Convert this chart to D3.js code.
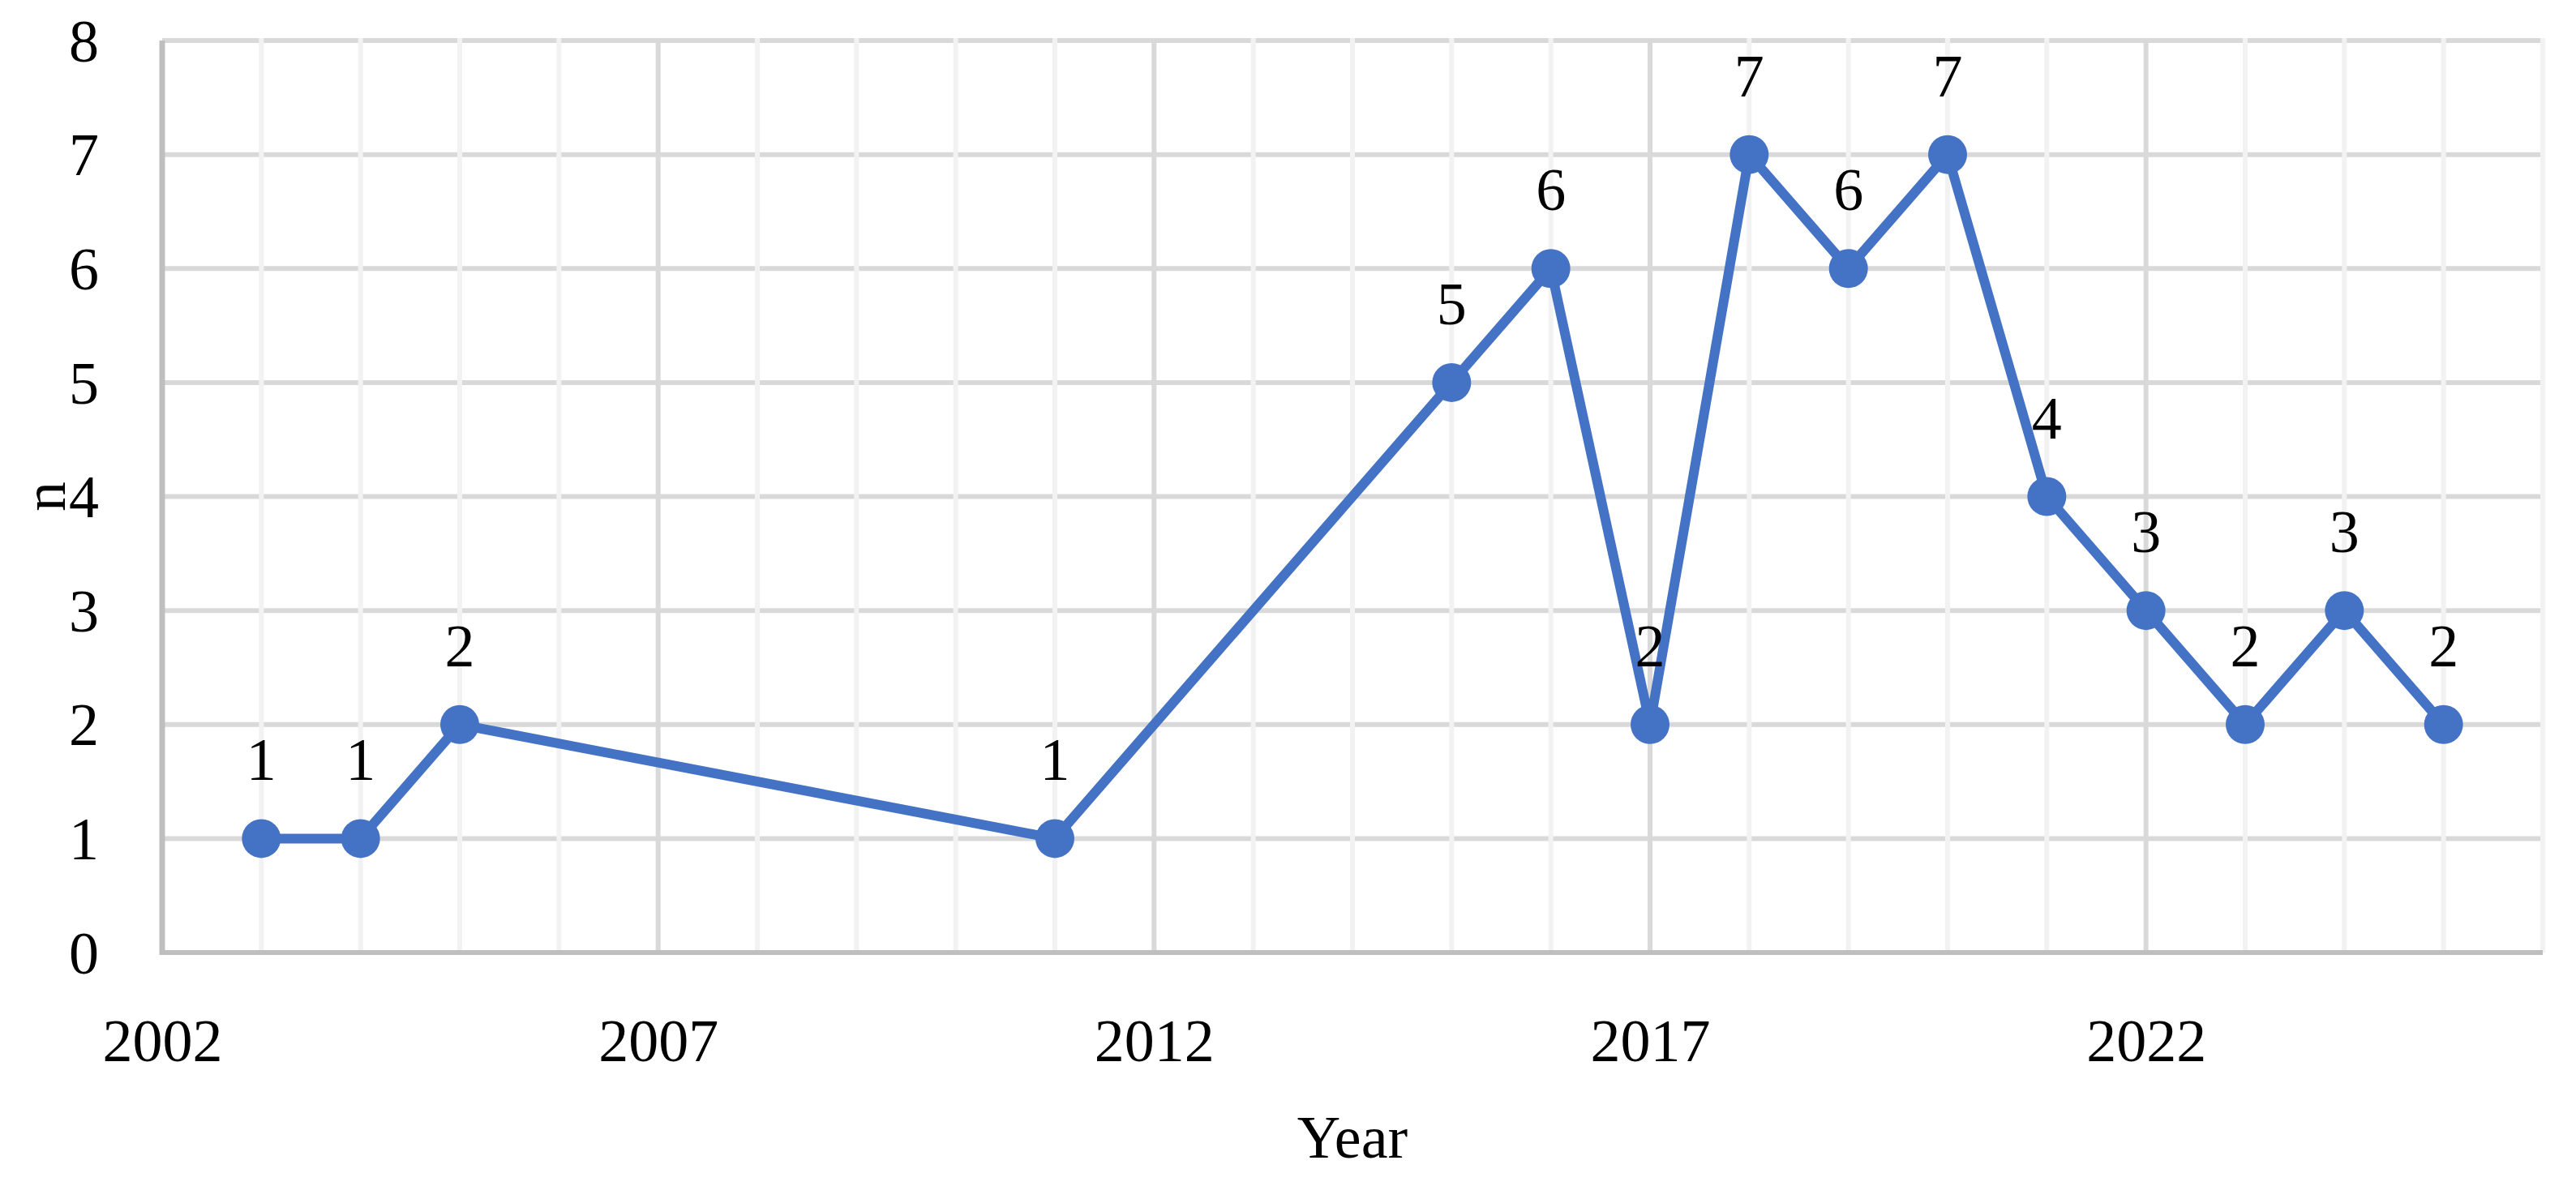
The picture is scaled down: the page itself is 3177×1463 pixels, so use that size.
<!DOCTYPE html>
<html>
<head>
<meta charset="utf-8">
<script src="https://cdn.jsdelivr.net/npm/d3@7"></script>
<style>
  body { margin: 0; background: #fff; }
  svg { display: block; }
  text { font-family: "Liberation Serif", "DejaVu Serif", serif; fill: #000; }
</style>
</head>
<body>
<svg id="chart" width="3177" height="1463"></svg>
<script>
// data
const years = [2003, 2004, 2005, 2011, 2015, 2016, 2017, 2018, 2019, 2020, 2021, 2022, 2023, 2024, 2025];
const counts = [1, 1, 2, 1, 5, 6, 2, 7, 6, 7, 4, 3, 2, 3, 2];
const xTicks = [2002, 2007, 2012, 2017, 2022];
const yTicks = [0, 1, 2, 3, 4, 5, 6, 7, 8];

const W = 3177, H = 1463;
const margin = { left: 200, right: W - 3136, top: 50, bottom: H - 1175 };

const x = d3.scaleLinear().domain([2002, 2026]).range([margin.left, W - margin.right]);
const y = d3.scaleLinear().domain([0, 8]).range([H - margin.bottom, margin.top]);

const svg = d3.select("#chart");
const points = years.map((yr, i) => ({ year: yr, n: counts[i] }));

// horizontal gridlines
svg.append("g")
  .selectAll("line")
  .data(yTicks.filter(d => d > 0))
  .enter()
  .append("line")
  .attr("x1", x.range()[0]).attr("x2", x.range()[1])
  .attr("y1", d => y(d)).attr("y2", d => y(d))
  .attr("stroke", "#D9D9D9").attr("stroke-width", 6);

// minor vertical gridlines, one per year
const allYears = d3.range(2003, 2027).filter(d => !xTicks.includes(d));
svg.append("g")
  .selectAll("line")
  .data(allYears)
  .enter()
  .append("line")
  .attr("x1", d => x(d)).attr("x2", d => x(d))
  .attr("y1", y(8) - 3).attr("y2", y(0))
  .attr("stroke", "#F2F2F2").attr("stroke-width", 6);

// major vertical gridlines
svg.append("g")
  .selectAll("line")
  .data(xTicks.filter(d => d > 2002))
  .enter()
  .append("line")
  .attr("x1", d => x(d)).attr("x2", d => x(d))
  .attr("y1", y(8) - 3).attr("y2", y(0))
  .attr("stroke", "#D9D9D9").attr("stroke-width", 6);

// axes lines
svg.append("line")
  .attr("x1", x(2002)).attr("x2", x(2002))
  .attr("y1", y(8)).attr("y2", y(0) + 3)
  .attr("stroke", "#BFBFBF").attr("stroke-width", 7);
svg.append("line")
  .attr("x1", x(2002) - 3).attr("x2", x(2026))
  .attr("y1", y(0)).attr("y2", y(0))
  .attr("stroke", "#BFBFBF").attr("stroke-width", 6);

// tick labels through d3 axes
const yAxis = svg.append("g")
  .attr("transform", `translate(${x(2002)},0)`)
  .call(d3.axisLeft(y).tickValues(yTicks).tickSize(0).tickPadding(78).tickFormat(d3.format("d")));
yAxis.select(".domain").remove();
yAxis.selectAll("text")
  .attr("font-size", 74)
  .attr("font-family", "Liberation Serif, serif")
  .attr("dy", "0.34em");

const xAxis = svg.append("g")
  .attr("transform", `translate(0,${y(0)})`)
  .call(d3.axisBottom(x).tickValues(xTicks).tickSize(0).tickFormat(d3.format("d")));
xAxis.select(".domain").remove();
xAxis.selectAll("text")
  .attr("font-size", 74)
  .attr("font-family", "Liberation Serif, serif")
  .attr("y", 134)
  .attr("dy", 0);

// axis titles
svg.append("text")
  .attr("x", (x.range()[0] + x.range()[1]) / 2)
  .attr("y", 1428)
  .attr("text-anchor", "middle")
  .attr("font-size", 74)
  .text("Year");

svg.append("text")
  .attr("transform", `translate(80,${(y(0) + y(8)) / 2}) rotate(-90)`)
  .attr("text-anchor", "middle")
  .attr("font-size", 74)
  .text("n");

// series line
const line = d3.line().x(d => x(d.year)).y(d => y(d.n));
svg.append("path")
  .datum(points)
  .attr("d", line)
  .attr("fill", "none")
  .attr("stroke", "#4472C4")
  .attr("stroke-width", 12)
  .attr("stroke-linejoin", "round");

// markers
svg.append("g")
  .selectAll("circle")
  .data(points)
  .enter()
  .append("circle")
  .attr("cx", d => x(d.year))
  .attr("cy", d => y(d.n))
  .attr("r", 24)
  .attr("fill", "#4472C4");

// data labels
svg.append("g")
  .selectAll("text")
  .data(points)
  .enter()
  .append("text")
  .attr("x", d => x(d.year))
  .attr("y", d => y(d.n) - 72)
  .attr("text-anchor", "middle")
  .attr("font-size", 74)
  .text(d => d.n);
</script>
</body>
</html>
